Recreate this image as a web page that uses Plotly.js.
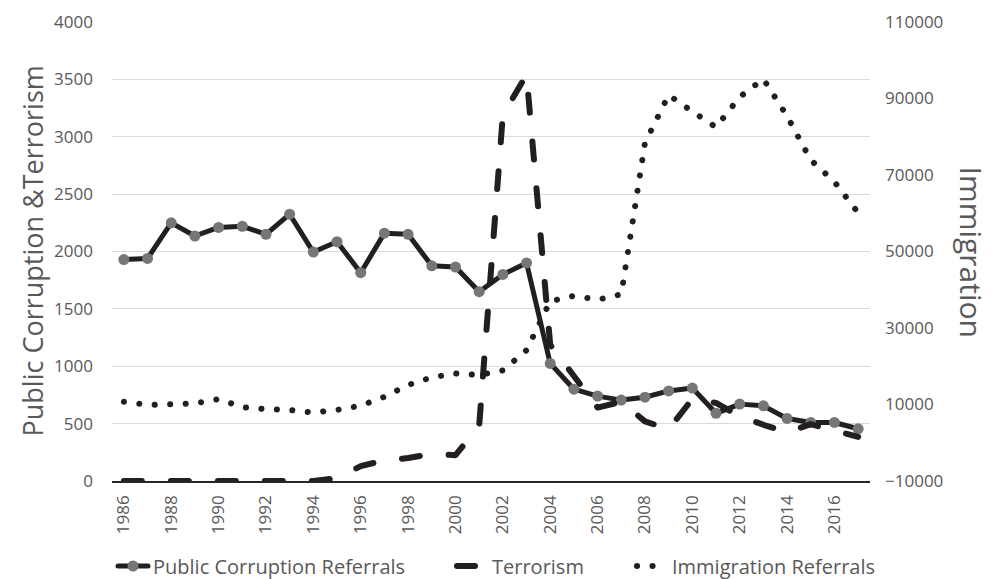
<!DOCTYPE html>
<html>
<head>
<meta charset="utf-8">
<script src="https://cdn.plot.ly/plotly-3.0.1.min.js"></script>
<style>
  html, body { margin: 0; padding: 0; background: #ffffff; }
  #chart { width: 1001px; height: 579px; }
  path.js-line, .legendlines path { stroke-linecap: round; stroke-linejoin: round; }
  .cartesianlayer .plot { clip-path: none !important; }
</style>
</head>
<body>
<div id="chart"></div>
<script>
const years = [1986,1987,1988,1989,1990,1991,1992,1993,1994,1995,1996,1997,1998,1999,2000,2001,
               2002,2003,2004,2005,2006,2007,2008,2009,2010,2011,2012,2013,2014,2015,2016,2017];
const corruption = [1930,1940,2250,2135,2210,2220,2150,2325,1995,2085,1815,2160,2150,1875,1865,1650,
                    1800,1900,1025,800,740,705,730,785,810,590,670,655,545,510,510,455];
const terrorism = [0,0,0,0,0,0,0,0,0,25,130,180,200,235,225,480,
                   3190,3540,1185,915,640,690,520,450,715,680,565,490,425,495,445,385];
const immigration = [10700,9900,10100,10300,11400,9300,8800,8600,7900,8600,9700,12000,15100,17100,18100,17700,
                     18900,24200,37000,38400,37400,38800,78400,90900,86600,82500,90400,95100,85400,73900,68200,60100];
const seriesNames = ["Public Corruption Referrals", "Terrorism", "Immigration Referrals"];
const leftTitle = "Public Corruption &Terrorism";
const rightTitle = "Immigration";

const FONT = "Open Sans, sans-serif";
const GRAY = "#595959";
const INK = "#231f20";

const traces = [
  {
    x: years, y: corruption, name: seriesNames[0], type: "scatter", mode: "lines+markers",
    line: { color: INK, width: 5 },
    marker: { color: "#767676", size: 11 },
    legend: "legend", yaxis: "y"
  },
  {
    x: years, y: terrorism, name: seriesNames[1], type: "scatter", mode: "lines",
    line: { color: INK, width: 6, dash: "18px,29px" },
    legend: "legend2", yaxis: "y"
  },
  {
    x: years, y: immigration, name: seriesNames[2], type: "scatter", mode: "lines",
    line: { color: INK, width: 6, dash: "0.1px,15.4px" },
    legend: "legend3", yaxis: "y2"
  }
];

const W = 1001, H = 579;
const L = 112, R = 870, T = 22, B = 481;
const px = v => (v - L) / (R - L);

const legendBase = {
  orientation: "h", xanchor: "left", yanchor: "middle",
  yref: "container", y: (H - 566) / H,
  font: { family: FONT, size: 20, color: GRAY }, bgcolor: "rgba(0,0,0,0)"
};

const layout = {
  width: W, height: H,
  margin: { l: L, r: W - R, t: T, b: H - B, autoexpand: false },
  paper_bgcolor: "#ffffff", plot_bgcolor: "#ffffff",
  font: { family: FONT, color: GRAY },
  showlegend: true,
  legend: Object.assign({}, legendBase, { x: px(113) }),
  legend2: Object.assign({}, legendBase, { x: px(452) }),
  legend3: Object.assign({}, legendBase, { x: px(632) }),
  xaxis: {
    range: [1985.5, 2017.5], tick0: 1986, dtick: 2, tickangle: -90,
    showgrid: false, zeroline: false, showline: true, linecolor: "#262626", linewidth: 1.5,
    layer: "below traces", ticks: "", ticklabelstandoff: 6, automargin: false,
    tickfont: { family: FONT, size: 17, color: GRAY }
  },
  yaxis: {
    range: [0, 4000], dtick: 500, showgrid: true, gridcolor: "#d9d9d9", gridwidth: 1.2,
    zeroline: false, showline: false, ticks: "", ticklabelstandoff: 18, automargin: false,
    tickfont: { family: FONT, size: 17, color: GRAY }
  },
  yaxis2: {
    overlaying: "y", side: "right", range: [-10000, 110000], tick0: -10000, dtick: 20000,
    tickformat: "d", showgrid: false, zeroline: false, showline: false, ticks: "",
    ticklabelstandoff: 14, automargin: false,
    tickfont: { family: FONT, size: 17, color: GRAY }
  },
  annotations: [
    { text: leftTitle, xref: "paper", yref: "paper", x: px(32), y: 0.5, textangle: -90,
      showarrow: false, xanchor: "center", yanchor: "middle",
      font: { family: FONT, size: 27, color: GRAY } },
    { text: rightTitle, xref: "paper", yref: "paper", x: px(971), y: 0.5, textangle: 90,
      showarrow: false, xanchor: "center", yanchor: "middle",
      font: { family: FONT, size: 30, color: GRAY } }
  ]
};

Plotly.newPlot("chart", traces, layout, { displayModeBar: false, staticPlot: true });
</script>
</body>
</html>
